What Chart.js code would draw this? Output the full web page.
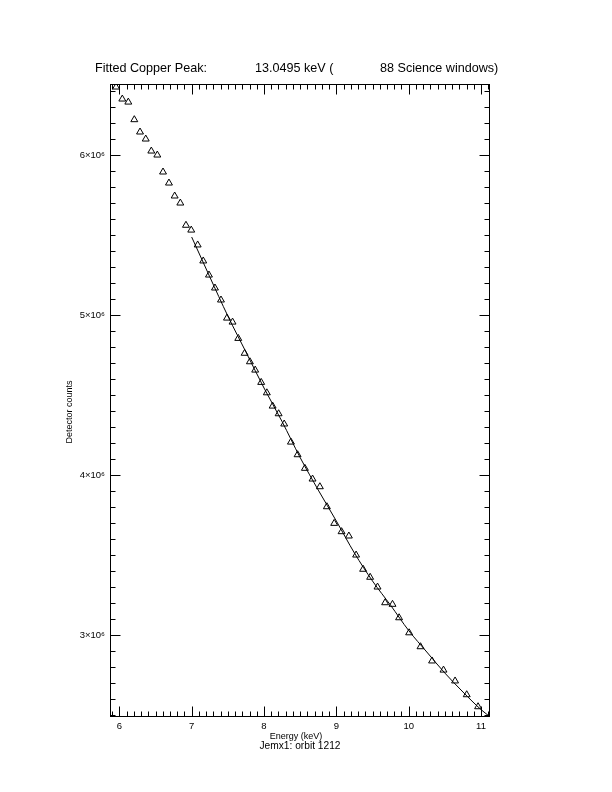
<!DOCTYPE html>
<html><head><meta charset="utf-8">
<script src="https://cdn.jsdelivr.net/npm/chart.js@4.4.1/dist/chart.umd.min.js"></script>
<style>html,body{margin:0;padding:0;background:#fff;}canvas{display:block;}</style>
</head><body>
<canvas id="c" width="612" height="792"></canvas>
<script>
// ---- data ----
const energyKeV = [5.955, 6.041, 6.124, 6.207, 6.286, 6.365, 6.442, 6.525, 6.604, 6.686, 6.765, 6.843,
  6.921, 6.994, 7.083, 7.160, 7.239, 7.322, 7.405, 7.488, 7.565, 7.644, 7.732, 7.805, 7.878, 7.961,
  8.039, 8.119, 8.202, 8.279, 8.372, 8.464, 8.565, 8.671, 8.772, 8.869, 8.970, 9.072, 9.173, 9.273,
  9.370, 9.467, 9.569, 9.674, 9.776, 9.867, 10.006, 10.163, 10.323, 10.481, 10.641, 10.802, 10.959];
const detectorCounts = [6.425e6, 6.350e6, 6.331e6, 6.221e6, 6.144e6, 6.100e6, 6.025e6, 6.000e6, 5.894e6,
  5.825e6, 5.744e6, 5.700e6, 5.561e6, 5.531e6, 5.438e6, 5.338e6, 5.250e6, 5.169e6, 5.094e6, 4.981e6,
  4.956e6, 4.854e6, 4.761e6, 4.708e6, 4.656e6, 4.579e6, 4.514e6, 4.431e6, 4.383e6, 4.319e6, 4.206e6,
  4.127e6, 4.042e6, 3.975e6, 3.927e6, 3.802e6, 3.698e6, 3.646e6, 3.619e6, 3.500e6, 3.411e6, 3.361e6,
  3.300e6, 3.202e6, 3.192e6, 3.108e6, 3.014e6, 2.927e6, 2.838e6, 2.781e6, 2.713e6, 2.627e6, 2.552e6];
const fitEnergyKeV = [7.0, 7.25, 7.5, 7.75, 8.0, 8.25, 8.5, 8.75, 9.0, 9.25, 9.5, 9.75, 10.0, 10.25, 10.5, 10.75, 11.0, 11.11];
const fitCounts = [5.4875e6, 5.239e6, 4.994e6, 4.769e6, 4.544e6, 4.334e6, 4.109e6, 3.906e6, 3.7125e6,
  3.5125e6, 3.3375e6, 3.186e6, 3.028e6, 2.894e6, 2.7625e6, 2.644e6, 2.534e6, 2.494e6];
const xTickValues = [6, 7, 8, 9, 10, 11];
const yTickValues = [3e6, 4e6, 5e6, 6e6];
const yTickLabels = ['3\u00d710\u2076', '4\u00d710\u2076', '5\u00d710\u2076', '6\u00d710\u2076'];
const xRange = [5.871, 11.11];
const yRange = [2.494e6, 6.444e6];
const titleParts = ['Fitted Copper Peak:', '13.0495 keV (', '88 Science windows)'];
const xAxisTitle = 'Energy (keV)';
const subTitle = 'Jemx1: orbit 1212';
const yAxisTitle = 'Detector counts';

const FONT = "'Liberation Sans', Arial, sans-serif";

const framePlugin = {
  id: 'frame',
  afterDatasetsDraw(chart) {
    const {ctx, chartArea: a, scales: {x, y}} = chart;
    ctx.save();
    ctx.strokeStyle = '#000';
    ctx.lineWidth = 1;
    const L = Math.round(a.left) + 0.5, R = Math.round(a.right) + 0.5;
    const T = Math.round(a.top) + 0.5, B = Math.round(a.bottom) + 0.5;
    ctx.strokeRect(L, T, R - L, B - T);
    ctx.beginPath();
    for (let i = Math.ceil(x.min * 10); i <= Math.floor(x.max * 10); i++) {
      const px = Math.round(x.getPixelForValue(i / 10)) + 0.5;
      const len = (i % 10 === 0) ? 10 : 5;
      ctx.moveTo(px, B); ctx.lineTo(px, B - len);
      ctx.moveTo(px, T); ctx.lineTo(px, T + len);
    }
    for (let i = Math.ceil(y.min / 1e5); i <= Math.floor(y.max / 1e5); i++) {
      const py = Math.round(y.getPixelForValue(i * 1e5)) + 0.5;
      const len = (i % 10 === 0) ? 10 : 5;
      ctx.moveTo(L, py); ctx.lineTo(L + len, py);
      ctx.moveTo(R, py); ctx.lineTo(R - len, py);
    }
    ctx.stroke();
    ctx.fillStyle = '#000';
    ctx.textBaseline = 'alphabetic';
    ctx.textAlign = 'left';
    ctx.font = '12.6px ' + FONT;
    ctx.fillText(titleParts[0], 95, 72);
    ctx.fillText(titleParts[1], 255, 72);
    ctx.fillText(titleParts[2], 380, 72);
    ctx.textAlign = 'center';
    ctx.font = '9px ' + FONT;
    ctx.fillText(xAxisTitle, 296, 739);
    ctx.font = '10.2px ' + FONT;
    ctx.fillText(subTitle, 300, 749);
    ctx.font = '9px ' + FONT;
    ctx.save();
    ctx.translate(72, 412);
    ctx.rotate(-Math.PI / 2);
    ctx.fillText(yAxisTitle, 0, 0);
    ctx.restore();
    ctx.restore();
  }
};

new Chart(document.getElementById('c'), {
  type: 'scatter',
  data: {
    datasets: [
      {
        label: 'Data',
        data: energyKeV.map((e, i) => ({x: e, y: detectorCounts[i]})),
        pointStyle: 'triangle',
        pointRadius: 4,
        pointBorderWidth: 1,
        borderColor: '#000',
        backgroundColor: 'rgba(0,0,0,0)',
        showLine: false,
        clip: 0
      },
      {
        label: 'Fit',
        data: fitEnergyKeV.map((e, i) => ({x: e, y: fitCounts[i]})),
        showLine: true,
        pointRadius: 0,
        borderColor: '#000',
        borderWidth: 1,
        cubicInterpolationMode: 'monotone',
        fill: false,
        clip: 0
      }
    ]
  },
  options: {
    responsive: false,
    animation: false,
    devicePixelRatio: 1,
    layout: {padding: {left: 0, top: 84, right: 123, bottom: 56}},
    plugins: {legend: {display: false}, title: {display: false}, tooltip: {enabled: false}},
    scales: {
      x: {
        type: 'linear', min: xRange[0], max: xRange[1],
        grid: {display: false, drawTicks: false},
        border: {display: false},
        afterFit(s) { s.height = 20; },
        afterBuildTicks(s) { s.ticks = xTickValues.map(v => ({value: v})); },
        ticks: {color: '#000', font: {family: FONT, size: 9.5}, padding: 5, maxRotation: 0,
          callback: v => String(v)}
      },
      y: {
        type: 'linear', min: yRange[0], max: yRange[1],
        grid: {display: false, drawTicks: false},
        border: {display: false},
        afterFit(s) { s.width = 110; },
        afterBuildTicks(s) { s.ticks = yTickValues.map(v => ({value: v})); },
        ticks: {color: '#000', font: {family: FONT, size: 9.5}, padding: 5,
          callback: v => yTickLabels[yTickValues.indexOf(v)]}
      }
    }
  },
  plugins: [framePlugin]
});
</script>
</body></html>
